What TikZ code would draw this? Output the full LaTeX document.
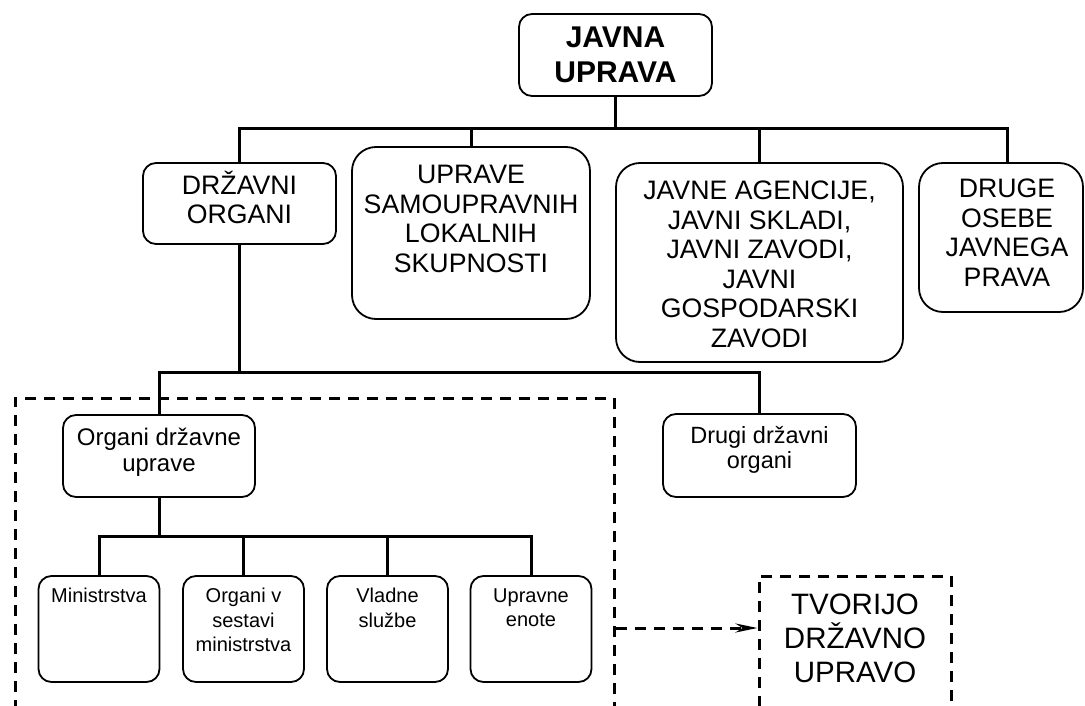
\documentclass[tikz,border=0pt]{standalone}
\usepackage{fontspec}
\setmainfont{Liberation Sans}
\usetikzlibrary{arrows.meta}

\tikzset{
  box/.style={draw, line width=1.8pt, rounded corners=13pt, align=center, inner sep=0pt},
  bigbox/.style={box, rounded corners=24pt},
  capsfont/.style={font=\fontsize{26.7}{29.5}\selectfont},
  midfont/.style={font=\fontsize{24}{26}\selectfont},
  smallfont/.style={font=\fontsize{20}{24.5}\selectfont},
  toptext/.style={anchor=north, align=center, inner sep=0pt, yshift=#1},
  intext/.style={anchor=center, align=center, inner sep=0pt, yshift=#1},
  bus/.style={line width=3pt},
  grpframe/.style={dash pattern=on 11pt off 8pt, line width=3pt},
}

\begin{document}
\begin{tikzpicture}[x=1pt, y=-1pt]
    \useasboundingbox (0,0) rectangle (1085,706);
    \clip (0,0) rectangle (1085,706);
    % Top level
    \node[box, font=\fontsize{30}{35}\selectfont\bfseries, minimum width=193pt, minimum height=82pt] (javna) at (615.5,55) {JAVNA\\UPRAVA};
    \node[box, minimum width=193pt, minimum height=81pt,
          label={[intext=6pt, capsfont]center:DRŽAVNI\\ORGANI}] (drz) at (239.5,203.5) {};
    \node[bigbox, minimum width=238pt, minimum height=172pt,
          label={[toptext=-19pt, capsfont]north:UPRAVE\\SAMOUPRAVNIH\\LOKALNIH\\SKUPNOSTI}] (upr) at (471,233) {};
    \node[bigbox, minimum width=287pt, minimum height=199pt,
          label={[intext=-2pt, capsfont]center:JAVNE AGENCIJE,\\JAVNI SKLADI,\\JAVNI ZAVODI,\\JAVNI\\GOSPODARSKI\\ZAVODI}] (javne) at (759.5,262.5) {};
    \node[bigbox, minimum width=164pt, minimum height=149pt,
          label={[intext=5pt, xshift=6pt, capsfont]center:DRUGE\\OSEBE\\JAVNEGA\\PRAVA}] (druge) at (1001,237.5) {};
    % Middle level
    \node[box, minimum width=192pt, minimum height=82pt,
          label={[intext=4pt, midfont]center:Organi državne\\uprave}] (ogu) at (159,456) {};
    \node[box, minimum width=193pt, minimum height=83pt,
          label={[intext=6pt, font=\fontsize{23.5}{25}\selectfont]center:Drugi državni\\organi}] (dro) at (759.5,455.5) {};
    % Bottom level
    \foreach \nm/\cx/\txt in {min/99/Ministrstva, ovs/243.5/{Organi v\\sestavi\\ministrstva},
                              vsl/387.5/{Vladne\\službe}, uen/531/{Upravne\\enote}}
        \node[box, minimum width=121pt, minimum height=106pt,
              label={[toptext=-13pt, smallfont]north:\txt}] (\nm) at (\cx,629) {};
    % Group frame and result
    \node[draw, grpframe, inner sep=0pt, minimum width=599pt, minimum height=400pt] (grp) at (314.5,598) {};
    \node[draw, grpframe, inner sep=0pt, minimum width=192pt, minimum height=180pt,
          label={[toptext=-19pt, font=\fontsize{29.5}{34}\selectfont]north:TVORIJO\\DRŽAVNO\\UPRAVO}] (tvo) at (855,666) {};
    % Connect nodes
    \draw[bus] (javna.south) -- ++(0,32) coordinate (b1);
    \draw[bus] (drz.north) |- (b1);
    \draw[bus] ([xshift=6pt]druge.north) |- (b1);
    \draw[bus] (upr.north) -- (upr.north |- b1);
    \draw[bus] (javne.north) -- (javne.north |- b1);
    \draw[bus] (drz.south) -- ++(0,128) coordinate (b2);
    \draw[bus] (ogu.north) |- (b2);
    \draw[bus] (dro.north) |- (b2);
    \draw[bus] (ogu.south) -- ++(0,39) coordinate (b3);
    \foreach \nm in {min,ovs,vsl,uen}
        \draw[bus] (\nm.north) |- (b3);
    \coordinate (arr) at (0,628);
    \draw[grpframe, -{Stealth[length=22pt, width=9pt]}] (grp.east |- arr) -- (tvo.west |- arr);
\end{tikzpicture}
\end{document}
